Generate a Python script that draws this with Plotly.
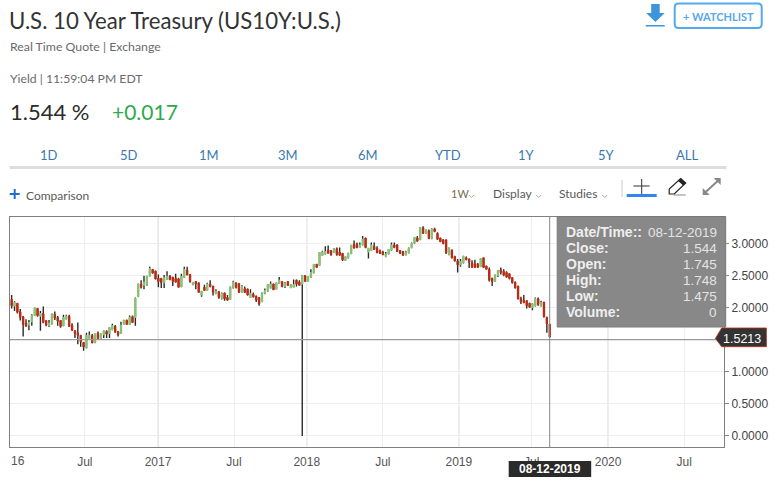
import numpy as np
import pandas as pd
import plotly.graph_objects as go

# Weekly candles
last_date = "2019-08-12"
open_ = [
2.26,2.13,2.03,2.07,1.94,1.86,1.76,1.73,1.78,1.88,
1.99,1.87,1.91,1.80,1.72,1.75,1.90,1.85,1.80,1.72,
1.82,1.87,1.73,1.64,1.61,1.57,1.46,1.37,1.52,1.57,
1.45,1.60,1.52,1.58,1.63,1.60,1.66,1.71,1.63,1.60,
1.74,1.81,1.74,1.86,1.85,2.17,2.37,2.35,2.35,2.49,
2.60,2.57,2.46,2.46,2.39,2.44,2.49,2.48,2.46,2.45,
2.33,2.47,2.59,2.52,2.36,2.41,2.39,2.20,2.32,2.27,
2.37,2.34,2.22,2.25,2.15,2.23,2.16,2.13,2.32,2.39,
2.38,2.24,2.30,2.29,2.16,2.21,2.18,2.16,2.09,2.22,
2.26,2.31,2.37,2.29,
2.38,2.41,2.33,2.41,2.31,2.32,2.43,2.40,2.37,2.50,
2.41,2.48,2.54,2.68,2.66,2.82,2.84,2.90,2.89,2.86,
2.92,2.87,2.85,2.74,2.78,2.84,2.99,2.99,2.94,2.98,
3.09,2.87,2.89,2.96,2.93,2.89,2.87,2.80,2.84,2.90,
2.98,2.98,2.89,2.88,2.82,2.85,2.94,3.01,3.09,3.06,
3.25,3.16,3.20,3.08,3.23,3.16,3.09,3.06,3.06,2.83,
2.90,2.80,2.73,2.67,2.70,2.78,2.76,2.70,2.69,2.68,
2.64,2.78,2.65,2.60,2.46,2.41,2.50,2.59,2.57,2.55,
2.53,2.47,2.40,2.34,2.15,2.12,2.11,2.07,2.00,2.03,
2.14,2.03,2.09,1.85,1.745]
high = [
2.26,2.20,2.10,2.07,1.98,1.87,1.82,1.81,1.90,2.00,
1.99,1.95,2.02,1.80,1.81,1.91,1.94,1.87,1.81,1.89,
1.89,1.89,1.76,1.65,1.77,1.57,1.46,1.61,1.63,1.59,
1.60,1.63,1.60,1.65,1.65,1.70,1.75,1.73,1.63,1.78,
1.81,1.81,1.88,1.88,2.16,2.38,2.43,2.50,2.50,2.64,
2.60,2.58,2.52,2.46,2.51,2.57,2.51,2.48,2.53,2.47,
2.53,2.64,2.64,2.52,2.40,2.41,2.39,2.26,2.36,2.39,
2.43,2.34,2.29,2.26,2.24,2.24,2.20,2.33,2.42,2.39,
2.38,2.35,2.33,2.30,2.29,2.24,2.19,2.16,2.24,2.30,
2.37,2.41,2.38,2.39,
2.48,2.41,2.40,2.41,2.37,2.44,2.44,2.43,2.51,2.51,
2.49,2.60,2.68,2.68,2.87,2.89,2.96,2.97,2.90,2.93,
2.94,2.94,2.85,2.80,2.86,2.98,3.05,3.02,3.02,3.12,
3.09,2.93,3.02,3.02,2.96,2.91,2.89,2.87,2.91,3.02,
3.02,2.99,2.90,2.88,2.89,2.94,3.02,3.10,3.12,3.26,
3.27,3.22,3.22,3.24,3.25,3.18,3.09,3.07,3.06,2.94,
2.91,2.81,2.76,2.76,2.81,2.80,2.77,2.74,2.75,2.70,
2.77,2.78,2.66,2.63,2.47,2.52,2.59,2.63,2.60,2.57,
2.54,2.48,2.41,2.34,2.17,2.20,2.12,2.08,2.07,2.16,
2.16,2.11,2.09,1.86,1.748]
low = [
2.10,1.99,1.95,1.91,1.80,1.55,1.71,1.65,1.72,1.87,
1.86,1.64,1.76,1.71,1.70,1.74,1.81,1.72,1.69,1.71,
1.82,1.70,1.64,1.53,1.43,1.39,1.33,1.37,1.52,1.45,
1.45,1.50,1.51,1.53,1.53,1.53,1.65,1.61,1.55,1.60,
1.74,1.74,1.73,1.77,1.72,2.17,2.30,2.29,2.34,2.49,
2.54,2.44,2.32,2.31,2.31,2.44,2.43,2.34,2.40,2.32,
2.32,2.47,2.51,2.39,2.35,2.29,2.24,2.17,2.27,2.27,
2.32,2.19,2.21,2.14,2.13,2.11,2.11,2.13,2.30,2.30,
2.23,2.23,2.23,2.19,2.16,2.16,2.09,2.03,2.09,2.21,
2.25,2.30,2.28,2.29,
2.37,2.32,2.31,2.34,2.31,2.32,2.33,2.35,0.00,2.41,
2.41,2.47,2.54,2.63,2.66,2.81,2.83,2.85,2.81,2.86,
2.81,2.81,2.73,2.73,2.77,2.84,2.93,2.93,2.94,2.97,
2.93,2.77,2.89,2.90,2.85,2.84,2.82,2.79,2.83,2.89,
2.93,2.87,2.84,2.81,2.82,2.85,2.93,3.00,3.03,3.06,
3.15,3.15,3.07,3.07,3.18,3.06,3.03,2.99,2.84,2.82,
2.77,2.72,2.55,2.64,2.69,2.74,2.62,2.63,2.63,2.63,
2.64,2.62,2.60,2.41,2.34,2.41,2.48,2.52,2.49,2.47,
2.44,2.38,2.30,2.13,2.06,2.07,1.99,2.00,1.96,2.02,
2.03,2.02,1.85,1.61,1.54]
close = [
2.12,2.03,2.08,1.93,1.85,1.74,1.71,1.77,1.88,2.00,
1.88,1.91,1.77,1.73,1.76,1.90,1.84,1.79,1.71,1.85,
1.87,1.71,1.65,1.60,1.57,1.47,1.39,1.57,1.57,1.45,
1.60,1.52,1.60,1.64,1.59,1.69,1.72,1.62,1.58,1.73,
1.81,1.74,1.85,1.77,2.15,2.37,2.32,2.40,2.49,2.61,
2.54,2.45,2.41,2.39,2.47,2.49,2.44,2.41,2.40,2.32,
2.49,2.60,2.51,2.41,2.40,2.37,2.24,2.26,2.27,2.37,
2.33,2.24,2.26,2.16,2.22,2.14,2.12,2.32,2.40,2.32,
2.24,2.33,2.24,2.20,2.22,2.17,2.12,2.06,2.22,2.27,
2.36,2.37,2.28,2.39,
2.43,2.33,2.38,2.35,2.36,2.36,2.37,2.35,2.50,2.41,
2.49,2.55,2.68,2.63,2.86,2.87,2.88,2.85,2.83,2.92,
2.83,2.82,2.75,2.80,2.85,2.98,2.93,2.94,2.98,3.07,
2.94,2.93,2.98,2.91,2.86,2.85,2.83,2.84,2.91,2.98,
2.94,2.88,2.85,2.82,2.87,2.93,3.00,3.10,3.04,3.25,
3.16,3.22,3.08,3.23,3.19,3.07,3.03,3.00,2.86,2.93,
2.78,2.73,2.67,2.72,2.80,2.75,2.71,2.63,2.63,2.63,
2.77,2.63,2.60,2.43,2.41,2.51,2.58,2.55,2.51,2.48,
2.46,2.39,2.31,2.14,2.09,2.08,2.03,2.01,2.06,2.14,
2.05,2.08,1.86,1.75,1.544]

x_tick_dates = ["2016-07-07","2017-01-01","2017-07-05","2017-12-29","2018-07-02","2019-01-03","2019-06-29","2020-01-01","2020-07-04"]
x_tick_text = ["Jul","2017","Jul","2018","Jul","2019","Jul","2020","Jul"]
year_lines = ["2017-01-01","2017-12-29","2019-01-03","2020-01-01"]
y_tick_vals = [0,0.5,1,1.5,2,2.5,3]
y_tick_text = ["0.0000","0.5000","1.0000","","2.0000","2.5000","3.0000"]
cross_y = 1.5213
tabs = ["1D","5D","1M","3M","6M","YTD","1Y","5Y","ALL"]
tab_x = [49,129,209,288,368,448,527,607,687]
tip_labels = ["Date/Time::","Close:","Open:","High:","Low:","Volume:"]
tip_values = ["08-12-2019","1.544","1.745","1.748","1.475","0"]

dates = pd.date_range(end=last_date, periods=len(open_), freq="7D")
o, c = np.array(open_), np.array(close)
body_hi, body_lo = np.maximum(o, c), np.minimum(o, c)
body_mid = (o + c) / 2

L, R, T, B = 10.3, 724.3, 217.0, 447.0
W, H = 775, 480
def px(x): return (x - L) / (R - L)
def py(y): return (B - y) / (B - T)

GREEN, RED, WICK = "#8dc27a", "#b92d14", "#2b2b2b"
fig = go.Figure()
fig.add_trace(go.Candlestick(x=dates, open=body_mid, high=high, low=low, close=body_mid,
    increasing=dict(line=dict(color=WICK, width=1.4), fillcolor=WICK),
    decreasing=dict(line=dict(color=WICK, width=1.4), fillcolor=WICK),
    hoverinfo="skip", showlegend=False))
fig.add_trace(go.Candlestick(x=dates, open=open_, high=body_hi, low=body_lo, close=close,
    increasing=dict(line=dict(color=GREEN, width=1), fillcolor=GREEN),
    decreasing=dict(line=dict(color=RED, width=1), fillcolor=RED),
    hoverinfo="skip", showlegend=False))

shapes, ann = [], []
def rect(x0, y0, x1, y1, fill, line=None, lw=0, op=1, layer="above"):
    shapes.append(dict(type="rect", xref="paper", yref="paper", x0=px(x0), x1=px(x1), y0=py(y0), y1=py(y1),
                       fillcolor=fill, line=dict(color=line or fill, width=lw), opacity=op, layer=layer))
def line(x0, y0, x1, y1, color, lw=1, layer="above"):
    shapes.append(dict(type="line", xref="paper", yref="paper", x0=px(x0), x1=px(x1), y0=py(y0), y1=py(y1),
                       line=dict(color=color, width=lw), layer=layer))
def path(points, fill="rgba(0,0,0,0)", color=None, lw=0, closed=True):
    d = "M" + " L".join(f"{px(a):.5f},{py(b):.5f}" for a, b in points) + (" Z" if closed else "")
    shapes.append(dict(type="path", xref="paper", yref="paper", path=d, fillcolor=fill,
                       line=dict(color=color or "rgba(0,0,0,0)", width=lw), layer="above"))
def text(s, x, y, size, color, anchor="left", font="Lato", bold=False):
    ann.append(dict(text=f"<b>{s}</b>" if bold else s, xref="paper", yref="paper", x=px(x), y=py(y), showarrow=False,
                    xanchor=anchor, yanchor="middle", borderpad=0,
                    font=dict(family=font, size=size, color=color)))

# Year gridlines (darker) beneath marks
for d in year_lines:
    shapes.append(dict(type="line", xref="x", yref="paper", x0=d, x1=d, y0=0, y1=1,
                       line=dict(color="#cfcfcf", width=1), layer="below"))

# Header
text("U.S. 10 Year Treasury (US10Y:U.S.)", 8.5, 20, 22.2, "#333333")
text("Real Time Quote | Exchange", 9, 46, 12.3, "#6b6b6b")
text("Yield | 11:59:04 PM EDT", 9, 79, 12.2, "#6b6b6b")
text("1.544 %", 9, 111, 22, "#2b2b2b")
text("+0.017", 111, 111, 21, "#2fa84f")
for t, x in zip(tabs, tab_x):
    text(t, x, 155, 13, "#3a78b0", anchor="center")
rect(10, 166, 726.7, 169, "#dddddd")

# Download icon and watchlist
path([(651.5,4),(660,4),(660,13),(665,13),(655.7,22),(646.5,13),(651.5,13)], fill="#3d96db")
rect(646, 25, 665, 26.5, "#3d96db")
def rrect(x0,y0,x1,y1,r):
    return (f"M{px(x0+r):.5f},{py(y0):.5f} L{px(x1-r):.5f},{py(y0):.5f} Q{px(x1):.5f},{py(y0):.5f} {px(x1):.5f},{py(y0+r):.5f} "
            f"L{px(x1):.5f},{py(y1-r):.5f} Q{px(x1):.5f},{py(y1):.5f} {px(x1-r):.5f},{py(y1):.5f} "
            f"L{px(x0+r):.5f},{py(y1):.5f} Q{px(x0):.5f},{py(y1):.5f} {px(x0):.5f},{py(y1-r):.5f} "
            f"L{px(x0):.5f},{py(y0+r):.5f} Q{px(x0):.5f},{py(y0):.5f} {px(x0+r):.5f},{py(y0):.5f} Z")
shapes.append(dict(type="path", xref="paper", yref="paper", path=rrect(675,3.5,762,28,4),
                   line=dict(color="#55a9ec", width=2), fillcolor="white", layer="above"))
text("+ WATCHLIST", 718.5, 16, 11, "#55a9ec", anchor="center", bold=True)

# Toolbar
line(10, 194, 20, 194, "#1f6fd0", 2); line(15, 189, 15, 199, "#1f6fd0", 2)
text("Comparison", 25.2, 195, 12, "#5a5a5a")
text("1W", 450, 194, 11, "#7a6a50")
text("Display", 492.2, 194, 12, "#5a5a5a")
text("Studies", 558.5, 194, 12, "#5a5a5a")
for x in (471.7, 539, 605):
    path([(x-2.5,195),(x,197.5),(x+2.5,195)], color="#aaaaaa", lw=1, closed=False)
line(622.3, 180, 622.3, 197, "#cccccc", 1)
rect(627, 194, 657, 197, "#2f86f0")
line(633.7, 186, 650, 186, "#333333", 1); line(642, 179, 642, 194, "#333333", 1)
path([(669.5,194),(669.5,189),(681,178.5),(686,183),(674.5,194)], fill="white", color="#222222", lw=1.2)
path([(681,178.5),(686,183),(683.5,185.5),(678.5,181)], fill="#222222")
line(674, 195, 686, 195, "#888888", 1)
line(706, 192, 718, 181, "#888888", 2)
path([(703,195),(703,188),(710,195)], fill="#888888")
path([(721,178),(714,178),(721,185)], fill="#888888")

# Crosshair
line(L, 339.6, R, 339.6, "#9a9a9a", 1.2)
shapes.append(dict(type="line", xref="x", yref="paper", x0=last_date, x1=last_date, y0=0, y1=1,
                   line=dict(color="#888888", width=1), layer="above"))

# Tooltip
rect(557.5, 216.5, 726, 327, "#858585", line="#777777", lw=1, op=0.97)
for i, (a, b) in enumerate(zip(tip_labels, tip_values)):
    y = 232 + 16*i
    text(a, 565.7, y, 14, "#eeeeee", font="Liberation Sans", bold=True)
    text(b, 718.3, y, 13.5, "#e4e4e4", anchor="right", font="Liberation Sans")

# Price and date labels
path([(766.7,328),(722,328),(715.7,338.5),(722,346.7),(766.7,346.7)], fill="#333333", color="#b92d14", lw=0.8)
text(f"{cross_y:.4f}", 742, 339, 12.5, "#ffffff", anchor="center", font="Liberation Sans")
rect(509, 461, 591.5, 477, "#2a2a2a")
text(tip_values[0], 550, 469, 12, "#ffffff", anchor="center", font="Liberation Sans", bold=True)
text("16", 10, 461, 12, "#555555", font="Liberation Sans")

fig.update_layout(width=W, height=H, margin=dict(l=L, r=W-R, t=T, b=H-B, pad=0, autoexpand=False), autosize=False,
    paper_bgcolor="white", plot_bgcolor="white", showlegend=False, dragmode=False,
    shapes=shapes, annotations=ann,
    xaxis=dict(type="date", range=["2016-01-07","2020-10-09"], rangeslider=dict(visible=False),
               tickmode="array", tickvals=x_tick_dates, ticktext=x_tick_text, tickangle=0,
               showgrid=True, gridcolor="#eeeeee", gridwidth=1, showline=True, linecolor="#808080", linewidth=1, mirror=True,
               ticks="outside", ticklen=4, tickcolor="white", zeroline=False,
               tickfont=dict(family="Liberation Sans", size=12, color="#555555")),
    yaxis=dict(range=[-0.172,3.416], side="right", tickmode="array", tickvals=y_tick_vals, ticktext=y_tick_text,
               showgrid=True, gridcolor="#eeeeee", gridwidth=1, showline=True, linecolor="#808080", linewidth=1, mirror=True,
               ticks="outside", ticklen=4, tickcolor="#888888", zeroline=False,
               tickfont=dict(family="Liberation Sans", size=12, color="#444444")))

fig.write_html("out.html", config=dict(displayModeBar=False),
               post_script="document.body.style.margin='0';document.body.style.overflow='hidden';")
